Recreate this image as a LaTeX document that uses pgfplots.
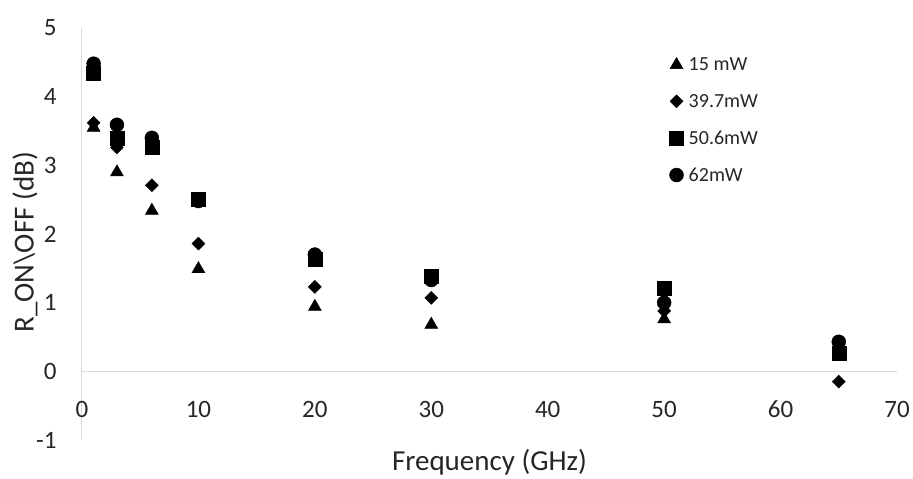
\documentclass[border=0pt]{standalone}
\usepackage{pgfplots}
\pgfplotsset{compat=1.18}
\usepackage{fontspec}
\setmainfont{Carlito}
\definecolor{axgray}{HTML}{D9D9D9}
\definecolor{txt}{HTML}{262626}
\begin{document}
\begin{tikzpicture}
\begin{axis}[
  at={(0,0)}, anchor=south west,
  scale only axis, width=815bp, height=412bp,
  xmin=0, xmax=70, ymin=-1, ymax=5,
  axis x line=middle, axis y line=left,
  axis line style={-, draw=axgray, line width=1bp},
  hide obscured x ticks=false, hide obscured y ticks=false,
  major tick length=0pt,
  xtick={0,10,20,30,40,50,60,70},
  xticklabels={0,10,20,30,40,50,60,70},
  ytick={-1,0,1,2,3,4,5},
  yticklabels={-1,0,1,2,3,4,5},
  tick label style={font=\fontsize{25bp}{30bp}\selectfont, text=txt},
  xticklabel style={anchor=center, yshift=-38bp},
  yticklabel style={anchor=east, xshift=-22bp},
  xlabel={Frequency (GHz)},
  ylabel={R\_ON\textbackslash OFF (dB)},
  label style={font=\fontsize{29bp}{34bp}\selectfont, text=txt},
  xlabel style={at={(axis description cs:0.5,0)}, anchor=center, yshift=-22bp},
  ylabel style={at={(axis description cs:0,0.48)}, anchor=center, yshift=57bp},
  legend style={draw=none, fill=none, at={(axis description cs:0.717,0.938)}, anchor=north west,
    font=\fontsize{20bp}{24bp}\selectfont, text=txt, row sep=18bp, legend cell align=left},
  legend image code/.code={\path (0bp,0bp) (14bp,0bp);\draw[mark repeat=2,mark phase=2] plot coordinates {(0bp,0bp)(4bp,0bp)(14bp,0bp)};},
]
\addplot[only marks, mark=triangle*, mark size=7.5bp, black] coordinates {
(1,3.55) (3,2.9) (6,2.34) (10,1.49) (20,0.94) (30,0.68) (50,0.76) (65,0.28)};
\addlegendentry{15 mW}
\addplot[only marks, mark=square*, mark size=4.6bp, mark options={rotate=45}, black] coordinates {
(1,3.62) (3,3.26) (6,2.71) (10,1.86) (20,1.23) (30,1.07) (50,0.88) (65,-0.15)};
\addlegendentry{39.7mW}
\addplot[only marks, mark=square*, mark size=7bp, black] coordinates {
(1,4.34) (3,3.39) (6,3.27) (10,2.5) (20,1.63) (30,1.38) (50,1.21) (65,0.26)};
\addlegendentry{50.6mW}
\addplot[only marks, mark=*, mark size=7bp, black] coordinates {
(1,4.48) (3,3.59) (6,3.40) (10,2.48) (20,1.70) (30,1.33) (50,1.0) (65,0.43)};
\addlegendentry{62mW}
\end{axis}
\path[use as bounding box] (-82bp,-35bp) rectangle (831bp,440bp);
\end{tikzpicture}
\end{document}
